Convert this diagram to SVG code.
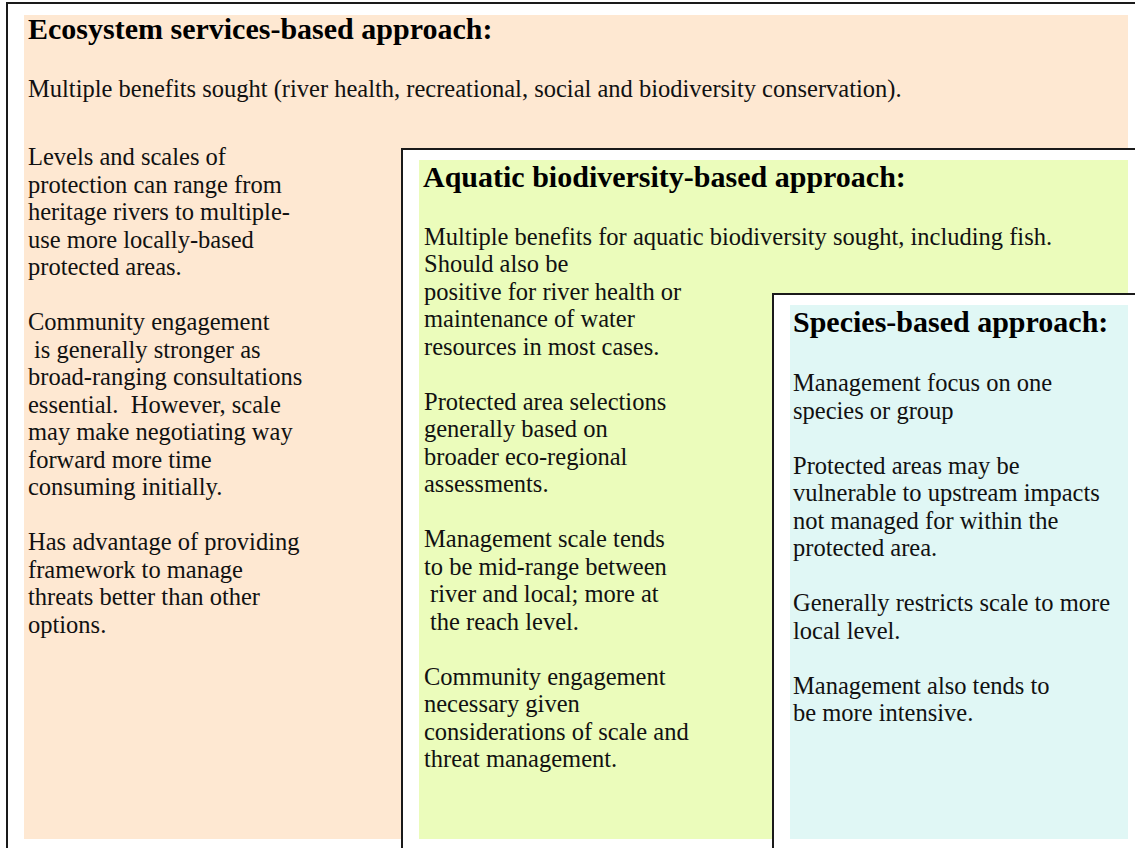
<svg xmlns="http://www.w3.org/2000/svg" width="1135" height="848" viewBox="0 0 1135 848">
  <style>
    .frame { fill: #ffffff; stroke: #1a1a1a; stroke-width: 2; }
    .title { font-family: "Liberation Serif", "Times New Roman", serif; font-weight: bold; font-size: 30px; fill: #000; }
    .body { font-family: "Liberation Serif", "Times New Roman", serif; font-size: 24.5px; fill: #111; }
  </style>

  <!-- Ecosystem services-based approach (outer panel) -->
  <g id="ecosystem-services">
    <rect class="frame" x="7" y="3" width="1140" height="860"/>
    <rect x="24" y="15" width="1104" height="824" fill="#fee8d2"/>
    <text class="title" x="28" y="39">Ecosystem services-based approach:</text>
    <text class="body" x="28" y="97">Multiple benefits sought (river health, recreational, social and biodiversity conservation).</text>
    <text class="body">
      <tspan x="28" y="165">Levels and scales of</tspan>
      <tspan x="28" y="192.5">protection can range from</tspan>
      <tspan x="28" y="220">heritage rivers to multiple-</tspan>
      <tspan x="28" y="247.5">use more locally-based</tspan>
      <tspan x="28" y="275">protected areas.</tspan>
      <tspan x="28" y="330">Community engagement</tspan>
      <tspan x="34" y="357.5">is generally stronger as</tspan>
      <tspan x="28" y="385">broad-ranging consultations</tspan>
    </text>
    <text class="body" x="28" y="412.5" xml:space="preserve">essential.  However, scale</text>
    <text class="body">
      <tspan x="28" y="440">may make negotiating way</tspan>
      <tspan x="28" y="467.5">forward more time</tspan>
      <tspan x="28" y="495">consuming initially.</tspan>
      <tspan x="28" y="550">Has advantage of providing</tspan>
      <tspan x="28" y="577.5">framework to manage</tspan>
      <tspan x="28" y="605">threats better than other</tspan>
      <tspan x="28" y="632.5">options.</tspan>
    </text>
  </g>

  <!-- Aquatic biodiversity-based approach (middle panel) -->
  <g id="aquatic-biodiversity">
    <rect class="frame" x="402" y="149" width="745" height="714"/>
    <rect x="419" y="160" width="709" height="679" fill="#ebfcbb"/>
    <text class="title" x="423" y="187">Aquatic biodiversity-based approach:</text>
    <text class="body">
      <tspan x="424" y="244.5">Multiple benefits for aquatic biodiversity sought, including fish.</tspan>
      <tspan x="424" y="272">Should also be</tspan>
      <tspan x="424" y="299.5">positive for river health or</tspan>
      <tspan x="424" y="327">maintenance of water</tspan>
      <tspan x="424" y="354.5">resources in most cases.</tspan>
      <tspan x="424" y="409.5">Protected area selections</tspan>
      <tspan x="424" y="437">generally based on</tspan>
      <tspan x="424" y="464.5">broader eco-regional</tspan>
      <tspan x="424" y="492">assessments.</tspan>
      <tspan x="424" y="547">Management scale tends</tspan>
      <tspan x="424" y="574.5">to be mid-range between</tspan>
      <tspan x="430" y="602">river and local; more at</tspan>
      <tspan x="430" y="629.5">the reach level.</tspan>
      <tspan x="424" y="684.5">Community engagement</tspan>
      <tspan x="424" y="712">necessary given</tspan>
      <tspan x="424" y="739.5">considerations of scale and</tspan>
      <tspan x="424" y="767">threat management.</tspan>
    </text>
  </g>

  <!-- Species-based approach (inner panel) -->
  <g id="species-based">
    <rect class="frame" x="773" y="294" width="374" height="569"/>
    <rect x="790" y="305" width="338" height="534" fill="#e0f7f5"/>
    <text class="title" x="793" y="332">Species-based approach:</text>
    <text class="body">
      <tspan x="793" y="391">Management focus on one</tspan>
      <tspan x="793" y="418.5">species or group</tspan>
      <tspan x="793" y="473.5">Protected areas may be</tspan>
      <tspan x="793" y="501">vulnerable to upstream impacts</tspan>
      <tspan x="793" y="528.5">not managed for within the</tspan>
      <tspan x="793" y="556">protected area.</tspan>
      <tspan x="793" y="611">Generally restricts scale to more</tspan>
      <tspan x="793" y="638.5">local level.</tspan>
      <tspan x="793" y="693.5">Management also tends to</tspan>
      <tspan x="793" y="721">be more intensive.</tspan>
    </text>
  </g>

  <!-- no connectors in this figure -->
  <g id="connectors"/>
</svg>
